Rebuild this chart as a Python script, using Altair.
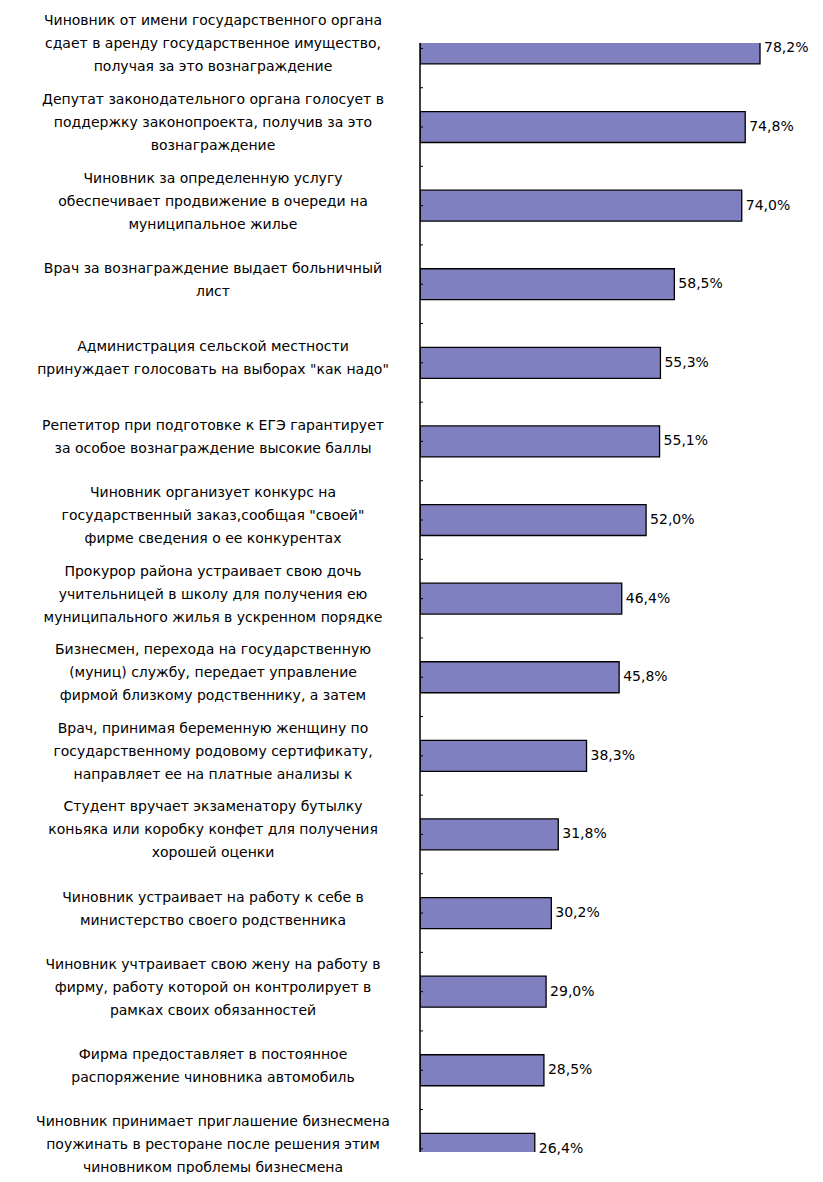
import altair as alt
import pandas as pd

labels = [
    "Чиновник от имени государственного органа\nсдает в аренду государственное имущество,\nполучая за это вознаграждение",
    "Депутат законодательного органа голосует в\nподдержку законопроекта, получив за это\nвознаграждение",
    "Чиновник за определенную услугу\nобеспечивает продвижение в очереди на\nмуниципальное жилье",
    "Врач за вознаграждение выдает больничный\nлист",
    "Администрация сельской местности\nпринуждает голосовать на выборах \"как надо\"",
    "Репетитор при подготовке к ЕГЭ гарантирует\nза особое вознаграждение высокие баллы",
    "Чиновник организует конкурс на\nгосударственный заказ,сообщая \"своей\"\nфирме сведения о ее конкурентах",
    "Прокурор района устраивает свою дочь\nучительницей в школу для получения ею\nмуниципального жилья в ускренном порядке",
    "Бизнесмен, перехода на государственную\n(муниц) службу, передает управление\nфирмой близкому родственнику, а затем",
    "Врач, принимая беременную женщину по\nгосударственному родовому сертификату,\nнаправляет ее на платные анализы к",
    "Студент вручает экзаменатору бутылку\nконьяка или коробку конфет для получения\nхорошей оценки",
    "Чиновник устраивает на работу к себе в\nминистерство своего родственника",
    "Чиновник учтраивает свою жену на работу в\nфирму, работу которой он контролирует в\nрамках своих обязанностей",
    "Фирма предоставляет в постоянное\nраспоряжение чиновника автомобиль",
    "Чиновник принимает приглашение бизнесмена\nпоужинать в ресторане после решения этим\nчиновником проблемы бизнесмена",
]
values = [78.2, 74.8, 74.0, 58.5, 55.3, 55.1, 52.0, 46.4, 45.8, 38.3, 31.8, 30.2, 29.0, 28.5, 26.4]
idx = list(range(len(labels)))

df = pd.DataFrame({"idx": idx, "label": labels, "value": values})
ticks = pd.DataFrame({"pos": idx + [i + 0.5 for i in idx]})

PLOT_W = 385
PLOT_H = 1109

yscale = alt.Scale(domain=[-0.069, 14.04], reverse=True, nice=False, zero=False)
xscale = alt.Scale(domain=[0, 88.55], nice=False, zero=True)

FONT = "DejaVu Sans"
LINE_H = 23  # px
STEP = 78.6  # px per category (for line offset in index units)

base = alt.Chart(df)

bars = base.transform_calculate(
    y0="datum.idx - 0.197", y1="datum.idx + 0.197", z="0"
).mark_bar(color="#8080C0", stroke="#000000", strokeWidth=1.3, clip=True).encode(
    x=alt.X("value:Q", scale=xscale, axis=None),
    x2="z:Q",
    y=alt.Y("y0:Q", scale=yscale, axis=None),
    y2="y1:Q",
)

axis_line = alt.Chart(pd.DataFrame({"a": [0]})).mark_rule(
    color="#000000", strokeWidth=1.5
).encode(x=alt.value(0), y=alt.value(0), y2=alt.value(PLOT_H))

tick_marks = alt.Chart(ticks).mark_rule(color="#000000", strokeWidth=1).encode(
    x=alt.value(0), x2=alt.value(3),
    y=alt.Y("pos:Q", scale=yscale, axis=None),
)

cat_text = base.transform_calculate(
    ny=f"datum.idx - (length(split(datum.label, '\\n')) - 1) * {LINE_H / 2 / STEP}"
).mark_text(
    align="center", baseline="middle", lineBreak="\n", lineHeight=LINE_H,
    font=FONT, fontSize=14, color="#000000", dy=-4,
).encode(
    x=alt.value(-207),
    y=alt.Y("ny:Q", scale=yscale, axis=None),
    text="label:N",
)

val_text = base.transform_calculate(
    vl="replace(format(datum.value, '.1f'), '.', ',') + '%'"
).mark_text(
    align="left", baseline="middle", dx=4, font=FONT, fontSize=14, color="#000000",
).encode(
    x=alt.X("value:Q", scale=xscale, axis=None),
    y=alt.Y("idx:Q", scale=yscale, axis=None),
    text="vl:N",
)

chart = alt.layer(bars, axis_line, tick_marks, cat_text, val_text).properties(
    width=PLOT_W, height=PLOT_H,
    autosize=alt.AutoSizeParams(type="none"),
    padding={"left": 412, "top": 35, "right": 10, "bottom": 22},
).configure(background="#ffffff", view=alt.ViewConfig(stroke=None))

chart.save("out.html", embed_options={"renderer": "svg", "actions": False})
